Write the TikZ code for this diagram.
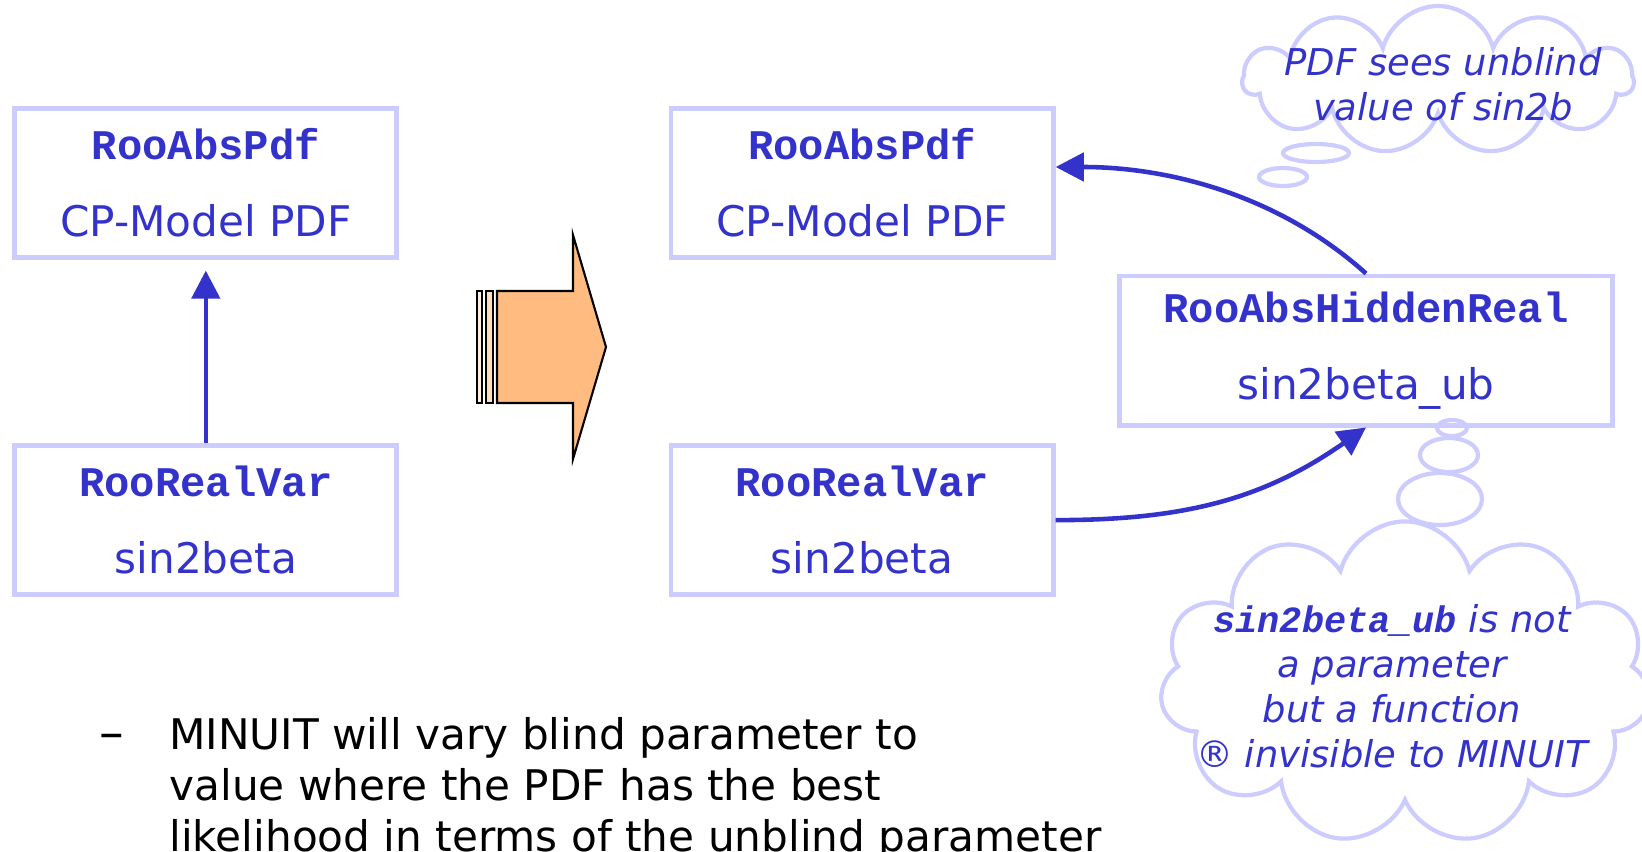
\documentclass[tikz,border=0pt]{standalone}
\usepackage{fontspec}
\setmainfont{DejaVu Sans}
\setmonofont{Liberation Mono}
\usetikzlibrary{shapes, shapes.symbols, arrows.meta, positioning, calc}
\definecolor{roo}{HTML}{3333CC}
\definecolor{frame}{HTML}{CCCCFF}
\definecolor{bigarrow}{HTML}{FFBB80}
\definecolor{stripe}{HTML}{FFDEC0}

\begin{document}
\begin{tikzpicture}[
        x=0.01cm, y=-0.01cm,
        node distance=1.83cm and 2.69cm,
        box/.style={rectangle, draw=frame, line width=1.4pt, minimum width=3.82cm, minimum height=1.49cm, align=center, text=roo, font=\fontsize{12}{22}\selectfont},
        link/.style={draw=roo, line width=1.3pt, -{Triangle[length=8pt, width=8pt]}},
        thought/.style={cloud, draw=frame, line width=1.2pt, cloud puffs=11, cloud ignores aspect, inner sep=0pt},
        bubble/.style={draw=frame, line width=1.2pt},
        note/.style={text=roo, font=\fontsize{10.5}{12.8}\selectfont\itshape, align=center},
        bullet/.style={font=\fontsize{12}{14.5}\selectfont}
    ]
    \useasboundingbox (0,0) rectangle (1642,851);

    % left: before blinding
    \node[box] (absL) at (205.8,183) {\texttt{\textbf{RooAbsPdf}}\\CP-Model PDF};
    \node[box, below=of absL] (varL) {\texttt{\textbf{RooRealVar}}\\sin2beta};
    \draw[link, shorten >=3pt] (varL) -- (absL);

    % big arrow
    \draw[fill=bigarrow, line width=0.6pt] (497,291) -- (573,291) -- (573,235) -- (606,347) -- (573,459) -- (573,403) -- (497,403) -- cycle;
    \draw[fill=stripe!50, line width=0.6pt] (477,291) rectangle (482,403);
    \draw[fill=stripe, line width=0.6pt] (486,291) rectangle (493,403);

    % right: after blinding
    \node[box, right=of absL] (absR) {\texttt{\textbf{RooAbsPdf}}\\CP-Model PDF};
    \node[box, right=of varL] (varR) {\texttt{\textbf{RooRealVar}}\\sin2beta};
    \node[box, minimum width=4.93cm] (hidR) at (1366,350.5) {\texttt{\textbf{RooAbsHiddenReal}}\\sin2beta\_ub};
    \draw[link] (hidR.north) to[out=138, in=0, looseness=0.9] ([yshift=0.16cm]absR.east);
    \draw[link] (varR.east) to[out=0, in=215] (hidR.south);

    % thought clouds
    \node[thought, minimum width=3.9cm, minimum height=1.48cm] (seeCloud) at (1438,80) {};
    \node[note] (seeText) at (1443,84) {PDF sees unblind\\value of sin2b};
    \draw[bubble] (1316,153) ellipse (33 and 9);
    \draw[bubble] (1283,177) ellipse (24 and 9);

    \draw[bubble] (1452,428) ellipse (15 and 8);
    \draw[bubble] (1449,455) ellipse (29 and 17);
    \draw[bubble] (1440,499) ellipse (42 and 26);
    \node[thought, minimum width=4.9cm, minimum height=3.23cm] (ubCloud) at (1405,683) {};
    \node[note] (ubText) at (1392,686) {{\ttfamily\bfseries sin2beta\_ub} is not\\a parameter\\but a function\\® invisible to MINUIT};

    % bullet text
    \node[bullet, font=\fontsize{14}{14.5}\selectfont, anchor=base west, inner sep=0pt] (dash) at (99,749) {–};
    \node[bullet, anchor=base west, align=left] (minuitText) at (157,851) {MINUIT will vary blind parameter to\\value where the PDF has the best\\likelihood in terms of the unblind parameter};
\end{tikzpicture}
\end{document}
